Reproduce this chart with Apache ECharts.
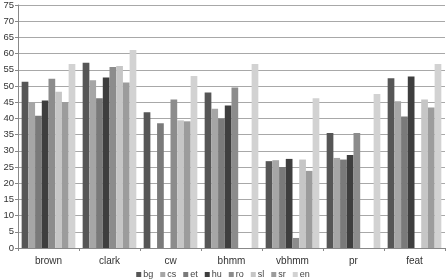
<!DOCTYPE html>
<html><head><meta charset="utf-8">
<script src="https://cdn.jsdelivr.net/npm/echarts@6/dist/echarts.min.js"></script>
<style>html,body{margin:0;padding:0;background:#fff}#c{width:446px;height:280px}</style>
</head><body><div id="c"></div>
<script>
const categories = ['brown','clark','cw','bhmm','vbhmm','pr','feat'];
const seriesNames = ['bg','cs','et','hu','ro','sl','sr','en'];
const bg = [51.3, 57.2, 41.9, 48.0, 26.8, 35.5, 52.4];
const cs = [45.0, 51.8, null, 43.0, 27.1, 27.8, 45.3];
const et = [40.8, 46.2, 38.5, 40.0, 25.0, 27.3, 40.6];
const hu = [45.5, 52.6, null, 44.0, 27.5, 28.7, 52.9];
const ro = [52.2, 55.9, 45.8, 49.5, 3.1, 35.5, null];
const sl = [48.2, 56.2, 39.4, null, 27.3, null, 45.8];
const sr = [45.1, 51.1, 39.1, null, 23.8, null, 43.4];
const en = [56.8, 61.1, 53.1, 56.8, 46.2, 47.5, 56.8];
const values = [bg, cs, et, hu, ro, sl, sr, en];
const colors = ['#565656','#a6a6a6','#7a7a7a','#3e3e3e','#8c8c8c','#c6c6c6','#9c9c9c','#d2d2d2'];

const chart = echarts.init(document.getElementById('c'), null, {renderer:'canvas'});
chart.setOption({
  animation:false,
  color: colors,
  grid:{left:18, right:1, top:3, bottom:32, containLabel:false},
  legend:{
    top:270, left:'center', padding:0, itemWidth:5, itemHeight:5, itemGap:7,
    icon:'rect',
    textStyle:{fontSize:9, color:'#444', fontFamily:'Liberation Sans, Arial', padding:[0,0,0,-3]},
    data: seriesNames
  },
  xAxis:{
    type:'category', data:categories,
    axisLine:{lineStyle:{color:'#888'}},
    axisTick:{show:true, length:3, lineStyle:{color:'#888'}},
    axisLabel:{fontSize:10, color:'#333', fontFamily:'Liberation Sans, Arial', margin:8}
  },
  yAxis:{
    type:'value', min:0, max:75, interval:5,
    axisLine:{show:true, lineStyle:{color:'#888'}},
    axisTick:{show:true, length:3, lineStyle:{color:'#888'}},
    axisLabel:{fontSize:9.5, color:'#333', fontFamily:'Liberation Sans, Arial', margin:4},
    splitLine:{lineStyle:{color:'#a8a8a8', width:1}}
  },
  series: seriesNames.map((n,i)=>({
    name:n, type:'bar', data:values[i],
    barGap:'0%', barCategoryGap:'12%'
  }))
});
</script></body></html>
